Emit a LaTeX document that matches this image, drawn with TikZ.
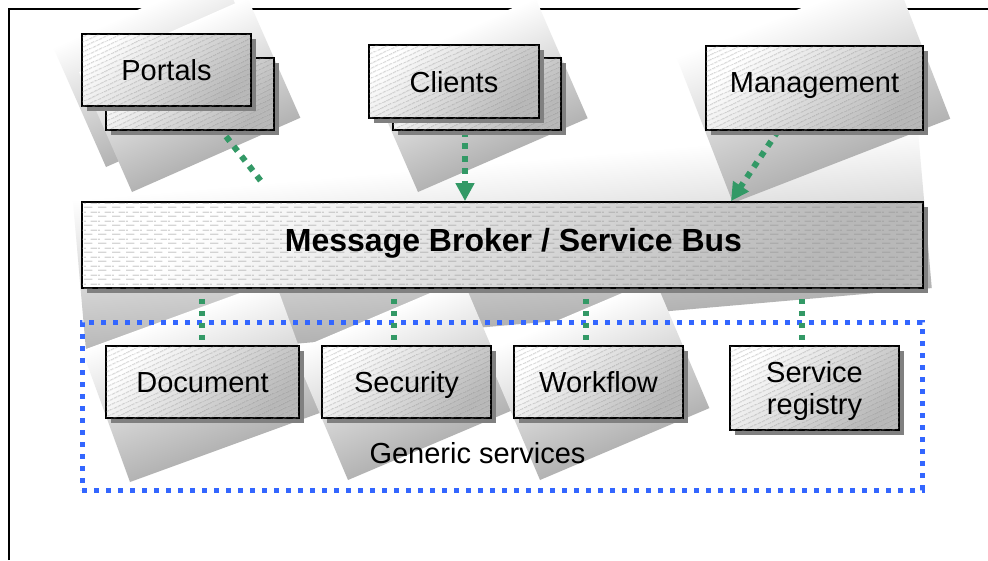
\documentclass[tikz,border=0pt]{standalone}
\usepackage{fontspec}
\setmainfont{Liberation Sans}
\usetikzlibrary{shadows,patterns,patterns.meta,arrows.meta,calc}
\pgfdeclarelayer{frame}
\pgfdeclarelayer{ghostA}
\pgfdeclarelayer{pconn}
\pgfdeclarelayer{ghostB}
\pgfdeclarelayer{conns}
\pgfsetlayers{frame,ghostA,pconn,ghostB,conns,main}
\pgfdeclarepatternformonly{brokerdash}{\pgfqpoint{0pt}{0pt}}{\pgfqpoint{14pt}{9pt}}{\pgfqpoint{14pt}{9pt}}{%
  \pgfsetlinewidth{0.6pt}%
  \pgfpathmoveto{\pgfqpoint{0pt}{2pt}}\pgfpathlineto{\pgfqpoint{9pt}{2pt}}%
  \pgfpathmoveto{\pgfqpoint{7pt}{6.5pt}}\pgfpathlineto{\pgfqpoint{14pt}{6.5pt}}%
  \pgfpathmoveto{\pgfqpoint{0pt}{6.5pt}}\pgfpathlineto{\pgfqpoint{2pt}{6.5pt}}%
  \pgfusepath{stroke}}
\definecolor{gconn}{HTML}{339966}
\definecolor{bdot}{HTML}{3366FF}
\newcommand\ghostrect[5]{\begin{scope}[transform canvas={shift={(#1pt,#2pt)},rotate=#3}]\shade[ghost] (0,0) rectangle (#4,#5);\end{scope}}
\tikzset{
  ghost/.style={top color=white, bottom color=black!30},
  boxbase/.style={draw=black, line width=1.8pt, inner sep=0pt, top color=white, bottom color=black!28, shading angle=45,
    drop shadow={shadow xshift=5pt, shadow yshift=-5pt, opacity=1, fill=black!50}},
  hatch/.style={postaction={pattern={Lines[angle=25,distance=4pt,line width=0.5pt]}, pattern color=black!45}},
  sbox/.style={boxbase, hatch, font=\fontsize{29}{32}\selectfont, minimum width=169pt, minimum height=72pt},
  oneline/.style={text height=21pt, text depth=0pt},
  gline/.style={draw=gconn, line width=6pt, dash pattern=on 6pt off 6.5pt},
  garrow/.style={gline, -{Triangle[width=18pt,length=18pt]}},
  lline/.style={gline, line width=5.5pt, dash pattern=on 5.5pt off 6.5pt, dash phase=2pt},
  groupbox/.style={draw=bdot, line width=5pt, dash pattern=on 5pt off 7pt, inner sep=0pt},
}
\begin{document}
\begin{tikzpicture}[x=1pt,y=1pt]
\useasboundingbox (0,0) rectangle (988,-560);
% ---- boxes (main layer) ----
\node[sbox, oneline, minimum width=168pt] (portalsBack) at (190,-94) {};
\node[sbox, oneline] (portals) at (166.5,-70) {Portals};
\node[sbox, oneline, minimum width=168pt] (clientsBack) at (477,-94) {};
\node[sbox, oneline, minimum width=170pt, minimum height=73pt] (clients) at (454,-81.5) {Clients};
\node[sbox, minimum width=217pt, minimum height=84pt, text height=21pt, text depth=13pt] (mgmt) at (814.5,-88) {Management};
\node[boxbase, postaction={pattern=brokerdash, pattern color=black!45}, minimum width=841pt, minimum height=86pt,
      font=\fontsize{32}{36}\selectfont\bfseries, text height=23pt, text depth=11pt] (broker) at (502.5,-245) {\hspace*{22pt}Message Broker / Service Bus};
\node[sbox, oneline, minimum width=193pt] (doc) at (202.5,-382) {Document};
\node[sbox, oneline] (sec) at (406.5,-382) {Security};
\node[sbox, oneline] (wf) at (598.5,-382) {Workflow};
\node[sbox, minimum height=84pt, align=center, text depth=0pt] (reg) at (814.5,-388) {Service\\registry};
\node[font=\fontsize{29}{32}\selectfont, anchor=base, inner sep=0pt] (gtext) at (477.5,-463) {Generic services};
% ---- frame ----
\begin{pgfonlayer}{frame}
  \fill[white] (0,0) rectangle (988,-560);
  \draw[line width=2.5pt] (9,-560) -- (9,-9) -- (988,-9);
\end{pgfonlayer}
% ---- ghost shapes behind portals ----
\begin{pgfonlayer}{ghostA}
  \ghostrect{106}{-167}{23.8}{184}{131}
  \ghostrect{132}{-192}{23.8}{184}{131}
\end{pgfonlayer}
\begin{pgfonlayer}{pconn}
  \draw[gline] (portals.south -| 203,0) -- (broker.north -| 276.6,0);
\end{pgfonlayer}
\begin{pgfonlayer}{ghostB}
  \ghostrect{87}{-362}{5}{848}{163}
  \ghostrect{418}{-192}{23.5}{185}{131}
  \ghostrect{733}{-203}{21.2}{233}{157}
  \ghostrect{130}{-482}{20}{205}{140}
  \ghostrect{348}{-480}{23}{184}{140}
  \ghostrect{540}{-480}{23}{184}{140}
\end{pgfonlayer}
% ---- group and connectors ----
\begin{pgfonlayer}{conns}
  \node[groupbox, minimum width=840pt, minimum height=168pt] (group) at (502,-406) {};
  \draw[garrow] (clientsBack.south -| 465,0) -- (broker.north -| 465,0);
  \draw[garrow] (mgmt.south -| 778,0) -- (broker.north -| 731,0);
  \draw[lline] (broker.south -| 202,0) -- (doc.north -| 202,0);
  \draw[lline] (broker.south -| 394,0) -- (sec.north -| 394,0);
  \draw[lline] (broker.south -| 586,0) -- (wf.north -| 586,0);
  \draw[lline] (broker.south -| 802,0) -- (reg.north -| 802,0);
\end{pgfonlayer}
\end{tikzpicture}
\end{document}
